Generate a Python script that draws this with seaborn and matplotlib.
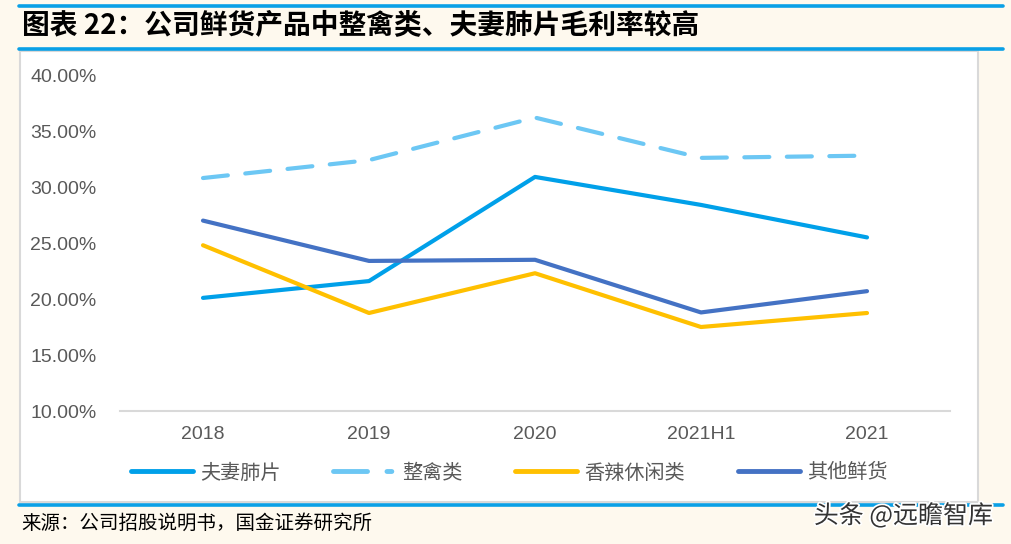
import matplotlib
matplotlib.use("Agg")
import matplotlib.pyplot as plt
import seaborn as sns
import pandas as pd
from matplotlib.patches import Rectangle
from matplotlib.lines import Line2D
import matplotlib.patheffects as pe

periods = ["2018", "2019", "2020", "2021H1", "2021"]
fuqi = [20.1, 21.6, 30.9, 28.4, 25.5]
zhengqin = [30.8, 32.4, 36.2, 32.6, 32.8]
xiangla = [24.8, 18.75, 22.3, 17.5, 18.75]
qita = [27.0, 23.4, 23.5, 18.8, 20.7]
series_names = ["夫妻肺片", "整禽类", "香辣休闲类", "其他鲜货"]
yticks = [10, 15, 20, 25, 30, 35, 40]

colors = ["#00A0E9", "#6CC7F4", "#FFC000", "#4472C4"]

sns.set_theme(style="white")
plt.rcParams['font.family'] = ['Liberation Sans', 'Noto Sans CJK SC', 'DejaVu Sans']

fig = plt.figure(figsize=(10.11, 5.44), dpi=100)
fig.patch.set_facecolor("#FEF9EE")

W, H = 1011, 544
def fx(x): return x / W
def fy(y): return 1 - y / H

# white panel
fig.patches.append(Rectangle((fx(20), fy(502)), fx(978) - fx(20), fy(51) - fy(502),
                             transform=fig.transFigure, facecolor="white",
                             edgecolor="#D9D9D9", linewidth=1.5, zorder=-5))
# blue rules
for yy in (6, 49, 505):
    fig.lines.append(Line2D([fx(19), fx(1003)], [fy(yy), fy(yy)], transform=fig.transFigure,
                            color="#0AA0E6", linewidth=2.6, zorder=-4))

ax = fig.add_axes([fx(120), fy(411), fx(950) - fx(120), fy(75) - fy(411)])
ax.set_facecolor("none")
ax.set_zorder(2)

data = {"夫妻肺片": fuqi, "整禽类": zhengqin, "香辣休闲类": xiangla, "其他鲜货": qita}
rows = []
for name in series_names:
    for p, v in zip(periods, data[name]):
        rows.append({"period": p, "value": v, "series": name})
df = pd.DataFrame(rows)

sns.lineplot(data=df, x="period", y="value", hue="series", style="series",
             hue_order=series_names, style_order=series_names,
             palette=colors, dashes={"夫妻肺片": "", "整禽类": (6, 4.2),
                                     "香辣休闲类": "", "其他鲜货": ""},
             linewidth=3.0, ax=ax, legend=False, sort=False)
for ln in ax.lines:
    ln.set_solid_capstyle("round")
    ln.set_dash_capstyle("round")

ax.set_xlim(-0.5, 4.5)
ax.set_ylim(10, 40)
ax.set_yticks(yticks)
ax.set_yticklabels([f"{t:.2f}%" for t in yticks])
ax.set_xticks(range(len(periods)))
ax.set_xticklabels(periods)
ax.set_xticks([i - 0.5 for i in range(len(periods) + 1)], minor=True)
ax.tick_params(axis="x", which="major", length=0, pad=11, labelsize=14, labelcolor="#595959")
ax.tick_params(axis="x", which="minor", length=5, direction="in", color="#D9D9D9", width=1.2)
ax.tick_params(axis="y", length=0, pad=17, labelsize=14, labelcolor="#595959")
ax.set_xlabel("")
ax.set_ylabel("")
for s in ("top", "right", "left"):
    ax.spines[s].set_visible(False)
ax.spines["bottom"].set_color("#D9D9D9")
ax.spines["bottom"].set_linewidth(1.5)

# legend
handles = []
for name, c in zip(series_names, colors):
    ls = (0, (7.0, 4.0, 1.0, 4.0)) if name == "整禽类" else "-"
    handles.append(Line2D([], [], color=c, linewidth=3.5, linestyle=ls,
                          solid_capstyle="round", dash_capstyle="round", label=name))
leg = fig.legend(handles=handles, loc="center", bbox_to_anchor=(fx(509), fy(473)),
                 ncol=4, frameon=False, handlelength=3.1, columnspacing=2.6, handletextpad=0.35,
                 prop={"family": ["Noto Sans CJK SC"], "size": 14.5})
for t in leg.get_texts():
    t.set_color("#595959")

# title
fig.text(fx(22), fy(26), "图表 22：公司鲜货产品中整禽类、夫妻肺片毛利率较高",
         fontsize=20, fontweight="bold", color="black", va="center", ha="left",
         family=["Noto Sans CJK SC", "DejaVu Sans"])

# source
fig.text(fx(21), fy(523), "来源：公司招股说明书，国金证券研究所",
         fontsize=14, color="black", va="center", ha="left",
         family=["Noto Sans CJK SC", "DejaVu Sans"])

# watermark
fig.text(fx(993), fy(516), "头条 @远瞻智库", fontsize=18, color="#333333",
         va="center", ha="right", family=["Noto Sans CJK SC", "DejaVu Sans"],
         path_effects=[pe.withStroke(linewidth=2.5, foreground="white")])

fig.savefig("out.png", dpi=100, facecolor=fig.get_facecolor())
